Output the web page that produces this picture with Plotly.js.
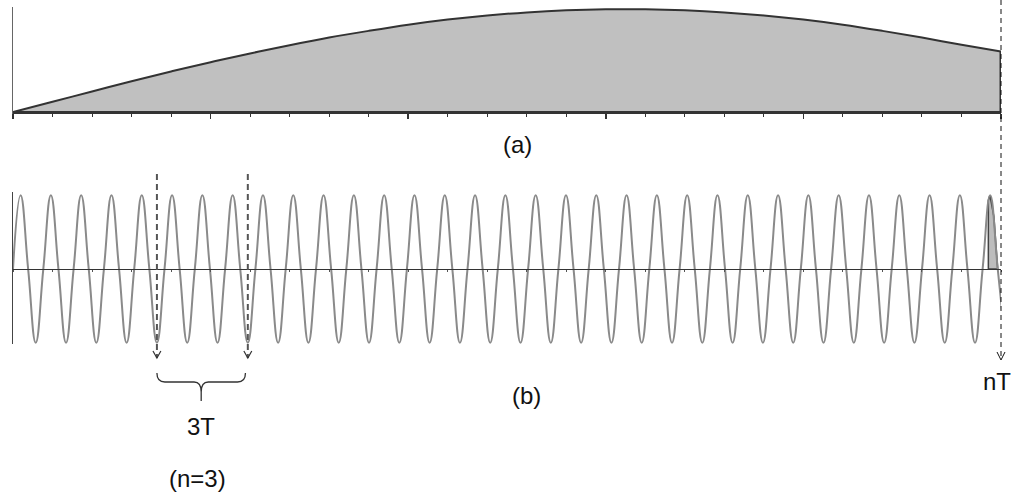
<!DOCTYPE html>
<html>
<head>
<meta charset="utf-8">
<script src="https://cdn.plot.ly/plotly-3.0.1.min.js"></script>
<style>
  html, body { margin: 0; padding: 0; background: #fff; }
  #chart { width: 1015px; height: 493px; }
</style>
</head>
<body>
<div id="chart"></div>
<script>
// ---------- data ----------
// x axis in tick units: 25 tick intervals from origin to nT
const X_END = 25;             // nT
const PERIOD_T = 0.7667;      // period T of the fast wave, in tick units

// (a) slow envelope, one value per tick (0..25)
const topY = [0, 0.10, 0.20, 0.30, 0.395, 0.485, 0.57, 0.65, 0.725, 0.79,
              0.85, 0.90, 0.94, 0.97, 0.99, 1.0, 1.0, 0.99, 0.97, 0.94,
              0.90, 0.85, 0.79, 0.725, 0.655, 0.59];

// (b) fast wave, values at every quarter period (zero, peak, zero, trough, ...)
const waveY = [
  0,1,0,-1, 0,1,0,-1, 0,1,0,-1, 0,1,0,-1, 0,1,0,-1, 0,1,0,-1,
  0,1,0,-1, 0,1,0,-1, 0,1,0,-1, 0,1,0,-1, 0,1,0,-1, 0,1,0,-1,
  0,1,0,-1, 0,1,0,-1, 0,1,0,-1, 0,1,0,-1, 0,1,0,-1, 0,1,0,-1,
  0,1,0,-1, 0,1,0,-1, 0,1,0,-1, 0,1,0,-1, 0,1,0,-1, 0,1,0,-1,
  0,1,0,-1, 0,1,0,-1, 0,1,0,-1, 0,1,0,-1, 0,1,0,-1, 0,1,0,-1,
  0,1,0,-1, 0,1,0,-1, 0,1,0,-1
];

// shaded sliver under the last peak of (b)
const shadeX = [24.68, 24.68, 24.72, 24.82, 24.917, 24.68];
const shadeY = [0, 0.93, 1.0, 0.71, 0, 0];

// marked sample instants (in periods) for the 3T bracket
const markPeriods = [4.75, 7.75];

// labels
const labelA = '(a)';
const labelB = '(b)';
const label3T = '3T';
const labelN = '(n=3)';
const labelNT = 'nT';

// ---------- traces ----------
const traces = [
  { // (a) filled envelope
    type: 'scatter', mode: 'lines', xaxis: 'x', yaxis: 'y',
    x0: 0, dx: 1, y: topY,
    line: { color: '#333', width: 2, shape: 'spline', smoothing: 1 },
    fill: 'tozeroy', fillcolor: '#c0c0c0', hoverinfo: 'skip'
  },
  { // (a) vertical closing edge at nT
    type: 'scatter', mode: 'lines', xaxis: 'x', yaxis: 'y',
    x: [X_END, X_END], y: [topY[topY.length - 1], 0],
    line: { color: '#333', width: 3 }, hoverinfo: 'skip'
  },
  { // (b) shaded sliver
    type: 'scatter', mode: 'lines', xaxis: 'x2', yaxis: 'y2',
    x: shadeX, y: shadeY, fill: 'toself', fillcolor: '#bdbdbd',
    line: { color: '#444', width: 1.5 }, hoverinfo: 'skip'
  },
  { // (b) fast wave
    type: 'scatter', mode: 'lines', xaxis: 'x2', yaxis: 'y2',
    x0: 0, dx: PERIOD_T / 4, y: waveY,
    line: { color: '#8a8a8a', width: 2, shape: 'spline', smoothing: 1.3 },
    hoverinfo: 'skip'
  }
];

// ---------- shapes ----------
const shapes = [];
const nTArm = 4 / 988;
shapes.push({ type: 'line', xref: 'paper', yref: 'paper', x0: 1, x1: 1, y0: 1, y1: 0.2698,
  line: { color: '#111', width: 1, dash: '5px,4px' }, layer: 'above' });
shapes.push({ type: 'path', xref: 'paper', yref: 'paper',
  path: `M ${1 - nTArm},0.2860 L 1,0.2698 L ${1 + nTArm},0.2860`,
  line: { color: '#111', width: 1 }, layer: 'above' });
const markX = markPeriods.map(p => p * PERIOD_T);
markX.forEach(mx => {
  shapes.push({ type: 'line', xref: 'x2', yref: 'paper', x0: mx, x1: mx, y0: 0.6471, y1: 0.2738,
    line: { color: '#555', width: 2, dash: '6px,4px' }, layer: 'above' });
  shapes.push({ type: 'path', xref: 'x2', yref: 'paper',
    path: `M ${mx - 0.1},0.2880 L ${mx},0.2738 L ${mx + 0.1},0.2880`,
    line: { color: '#333', width: 1.2 }, layer: 'above' });
});
// brace under the 3T interval
const bL = markX[0], bR = markX[1] - 0.06, bM = (bL + bR) / 2;
const yTop = 0.2434, yH = 0.2252, yC = 0.2050, yTip = 0.1866;
shapes.push({ type: 'path', xref: 'x2', yref: 'paper',
  path: `M ${bL},${yTop} Q ${bL},${yH} ${bL + 0.2},${yH} L ${bM - 0.18},${yH} Q ${bM},${yH} ${bM},${yC} L ${bM},${yTip} ` +
        `M ${bM},${yC} Q ${bM},${yH} ${bM + 0.18},${yH} L ${bR - 0.2},${yH} Q ${bR},${yH} ${bR},${yTop}`,
  line: { color: '#333', width: 1.3 }, layer: 'above' });

// ---------- annotations ----------
const font = { family: 'Liberation Sans, Arial, sans-serif', size: 24, color: '#111' };
const ann = (text, x, y) => ({ text, x, y, xref: 'paper', yref: 'paper', showarrow: false,
  xanchor: 'center', yanchor: 'middle', font });
const annotations = [
  ann(labelA, 0.5111, 0.7059),
  ann(labelB, 0.5202, 0.1978),
  ann(label3T, 0.1903, 0.1339),
  ann(labelN, 0.1872, 0.0284),
  ann(labelNT, 0.9960, 0.2252)
];

// ---------- layout ----------
const hidden = { showgrid: false, zeroline: false, showticklabels: false };
const layout = {
  width: 1015, height: 493,
  margin: { l: 13, r: 14, t: 0, b: 0 },
  paper_bgcolor: '#fff', plot_bgcolor: 'rgba(0,0,0,0)',
  showlegend: false,
  xaxis: Object.assign({}, hidden, {
    domain: [0, 1], range: [0, X_END], anchor: 'free', position: 0.7728,
    showline: true, linecolor: '#333', linewidth: 3,
    ticks: 'outside', tick0: 0, dtick: 5, ticklen: 5, tickwidth: 1.5, tickcolor: '#333',
    minor: { tick0: 0, dtick: 1, ticks: 'outside', ticklen: 3, tickwidth: 1, tickcolor: '#333', showgrid: false }
  }),
  yaxis: Object.assign({}, hidden, {
    domain: [0.7667, 0.9858], range: [-0.0292, 1.0224], anchor: 'x',
    showline: true, linecolor: '#666', linewidth: 1.5, ticks: ''
  }),
  xaxis2: Object.assign({}, hidden, {
    domain: [0, 1], range: [0, X_END], anchor: 'free', position: 0.4544,
    showline: true, linecolor: '#333', linewidth: 1.5,
    ticks: 'outside', tick0: 0, dtick: 1, ticklen: 2, tickwidth: 1, tickcolor: '#555'
  }),
  yaxis2: Object.assign({}, hidden, {
    domain: [0.3022, 0.6105], range: [-1.0176, 1.0448], anchor: 'x2',
    showline: true, linecolor: '#444', linewidth: 1.5, ticks: ''
  }),
  shapes, annotations
};

Plotly.newPlot('chart', traces, layout, { staticPlot: true, displayModeBar: false });
</script>
</body>
</html>
